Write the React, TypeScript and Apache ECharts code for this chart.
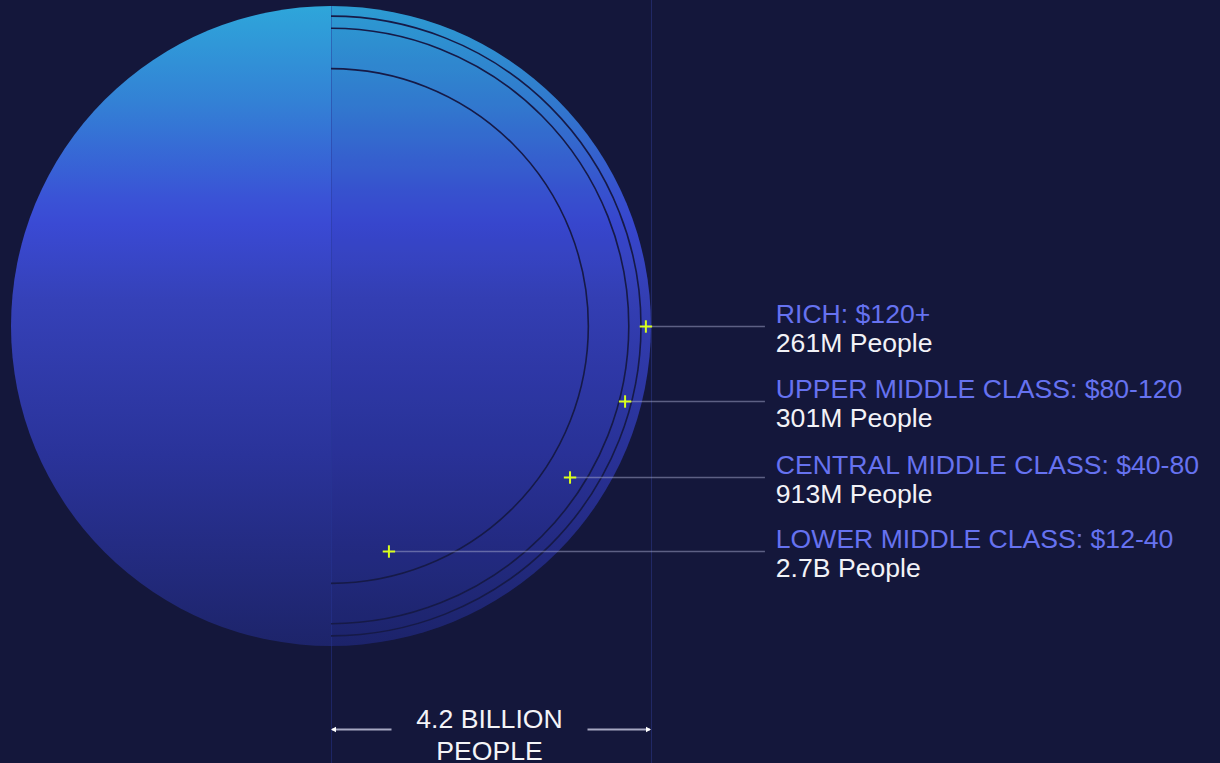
import React, { useEffect, useRef } from "react";
import * as echarts from "echarts";

// ---------- data ----------
const classNames = [
  "RICH: $120+",
  "UPPER MIDDLE CLASS: $80-120",
  "CENTRAL MIDDLE CLASS: $40-80",
  "LOWER MIDDLE CLASS: $12-40",
];
const peopleLabels = ["261M People", "301M People", "913M People", "2.7B People"];
const populationMillions = [261, 301, 913, 2700];
// marker positions (in units of the outer radius, circle centre = 0,0)
const markerX = [0.984, 0.919, 0.747, 0.181];
const markerY = [0, -0.234, -0.472, -0.703];
const totalLines = ["4.2 BILLION", "PEOPLE"];

// ---------- derived ----------
const totalMillions = populationMillions.reduce((a, b) => a + b, 0);
// radius of the circle enclosing everyone below each class (area ∝ people)
const ringRadii = populationMillions
  .map((_, i) => populationMillions.slice(i + 1).reduce((a, b) => a + b, 0))
  .filter((v) => v > 0)
  .map((v) => Math.sqrt(v / totalMillions));

// ---------- layout ----------
const W = 1220;
const H = 763;
const PX = 320; // px per unit radius
const CX = 331;
const CY = 326;
const LEADER_END_X = 1.356;
const LABEL_X = 1.39;
const BRACKET_Y = -1.259;
const FONT = '"Liberation Sans", Arial, Helvetica, sans-serif';
const FS = 26.6;
const BG = "#14173b";

const discGradient = () =>
  new echarts.graphic.LinearGradient(0, 0, 0, 1, [
    { offset: 0, color: "#2ea6da" },
    { offset: 0.15, color: "#3381d5" },
    { offset: 0.3, color: "#3a53d6" },
    { offset: 0.34, color: "#3a4ad4" },
    { offset: 0.46, color: "#3541b8" },
    { offset: 0.7, color: "#2a339a" },
    { offset: 1, color: "#1d246a" },
  ]);

export default function App() {
  const ref = useRef<HTMLDivElement>(null);

  useEffect(() => {
    if (!ref.current) return;
    const chart = echarts.init(ref.current, undefined, { renderer: "svg" });
    const yMin = -(H - CY) / PX;
    const yMax = CY / PX;

    chart.setOption({
      animation: false,
      backgroundColor: BG,
      grid: { left: 0, right: 0, top: 0, bottom: 0 },
      xAxis: { type: "value", min: -CX / PX, max: (W - CX) / PX, show: false },
      yAxis: { type: "value", min: yMin, max: yMax, show: false },
      series: [
        {
          type: "custom",
          name: "guides",
          clip: false,
          data: [[1]],
          renderItem: (params: any, api: any) => {
            const top = api.coord([api.value(0), yMax]);
            const bot = api.coord([api.value(0), yMin]);
            return {
              type: "line",
              shape: { x1: top[0] + 0.5, y1: top[1], x2: bot[0] + 0.5, y2: bot[1] },
              style: { stroke: "#212865", lineWidth: 1 },
            };
          },
        },
        {
          type: "custom",
          name: "disc",
          clip: false,
          data: [[0, 0, 1]],
          renderItem: (params: any, api: any) => {
            const c = api.coord([api.value(0), api.value(1)]);
            const r = api.size([api.value(2), api.value(2)])[0];
            const bottom = api.coord([0, yMin]);
            return {
              type: "group",
              children: [
                {
                  type: "sector",
                  shape: { cx: c[0], cy: c[1], r0: 0, r, startAngle: Math.PI / 2, endAngle: (3 * Math.PI) / 2, clockwise: true },
                  style: { fill: discGradient() },
                },
                {
                  type: "sector",
                  shape: { cx: c[0], cy: c[1], r0: 0, r, startAngle: -Math.PI / 2, endAngle: Math.PI / 2, clockwise: true },
                  style: { fill: discGradient() },
                },
                {
                  type: "sector",
                  shape: { cx: c[0], cy: c[1], r0: 0, r, startAngle: -Math.PI / 2, endAngle: Math.PI / 2, clockwise: true },
                  style: { fill: "rgba(25,30,110,0.07)" },
                },
                {
                  type: "line",
                  shape: { x1: c[0] + 0.5, y1: c[1] - r, x2: c[0] + 0.5, y2: bottom[1] },
                  style: { stroke: "rgba(40,55,150,0.45)", lineWidth: 1 },
                },
              ],
            };
          },
        },
        {
          type: "custom",
          name: "rings",
          clip: false,
          data: ringRadii.map((r) => [0, 0, r]),
          renderItem: (params: any, api: any) => {
            const c = api.coord([api.value(0), api.value(1)]);
            const r = api.size([api.value(2), api.value(2)])[0];
            return {
              type: "arc",
              shape: { cx: c[0], cy: c[1], r, startAngle: -Math.PI / 2, endAngle: Math.PI / 2, clockwise: true },
              style: { stroke: "#161a47", lineWidth: 1.6, fill: null },
            };
          },
        },
        {
          type: "custom",
          name: "callouts",
          clip: false,
          data: classNames.map((_, i) => [markerX[i], markerY[i], i]),
          renderItem: (params: any, api: any) => {
            const i = api.value(2);
            const p = api.coord([api.value(0), api.value(1)]);
            const end = api.coord([LEADER_END_X, api.value(1)]);
            const lab = api.coord([LABEL_X, api.value(1)]);
            const y = Math.round(p[1]) + 0.5;
            const arm = 6.2;
            return {
              type: "group",
              children: [
                {
                  type: "line",
                  shape: { x1: p[0], y1: y, x2: end[0], y2: y },
                  style: { stroke: "rgba(165,170,205,0.5)", lineWidth: 1.4 },
                },
                {
                  type: "line",
                  shape: { x1: p[0] - arm, y1: y, x2: p[0] + arm, y2: y },
                  style: { stroke: "#d9ff1c", lineWidth: 2 },
                },
                {
                  type: "line",
                  shape: { x1: p[0], y1: y - arm, x2: p[0], y2: y + arm },
                  style: { stroke: "#d9ff1c", lineWidth: 2 },
                },
                {
                  type: "text",
                  x: lab[0],
                  y: y - 12.3,
                  style: {
                    text: classNames[i],
                    fill: "#6672f0",
                    font: `${FS}px ${FONT}`,
                    align: "left",
                    verticalAlign: "middle",
                  },
                },
                {
                  type: "text",
                  x: lab[0],
                  y: y + 16,
                  style: {
                    text: peopleLabels[i],
                    fill: "#f2f2f7",
                    font: `${FS}px ${FONT}`,
                    align: "left",
                    verticalAlign: "middle",
                  },
                },
              ],
            };
          },
        },
        {
          type: "custom",
          name: "total",
          clip: false,
          data: [[0, 1, BRACKET_Y]],
          renderItem: (params: any, api: any) => {
            const a = api.coord([api.value(0), api.value(2)]);
            const b = api.coord([api.value(1), api.value(2)]);
            const mid = (a[0] + b[0]) / 2 - 1.5;
            const y = Math.round(a[1]) + 0.5;
            const gap = 98;
            const col = "#a6a8c2";
            return {
              type: "group",
              children: [
                { type: "line", shape: { x1: a[0] + 1, y1: y, x2: mid - gap, y2: y }, style: { stroke: col, lineWidth: 2 } },
                { type: "line", shape: { x1: mid + gap, y1: y, x2: b[0] - 1, y2: y }, style: { stroke: col, lineWidth: 2 } },
                { type: "polygon", shape: { points: [[a[0], y], [a[0] + 5, y - 2.8], [a[0] + 5, y + 2.8]] }, style: { fill: "#ffffff" } },
                { type: "polygon", shape: { points: [[b[0], y], [b[0] - 5, y - 2.8], [b[0] - 5, y + 2.8]] }, style: { fill: "#ffffff" } },
                {
                  type: "text",
                  x: mid,
                  y: y - 10.3,
                  style: { text: totalLines[0], fill: "#f4f4f8", font: `${FS}px ${FONT}`, align: "center", verticalAlign: "middle" },
                },
                {
                  type: "text",
                  x: mid,
                  y: y + 21.3,
                  style: { text: totalLines[1], fill: "#f4f4f8", font: `${FS}px ${FONT}`, align: "center", verticalAlign: "middle" },
                },
              ],
            };
          },
        },
      ],
    });
    return () => chart.dispose();
  }, []);

  return (
    <div
      ref={ref}
      style={{ position: "fixed", left: 0, top: 0, width: W, height: H, background: BG }}
    />
  );
}
